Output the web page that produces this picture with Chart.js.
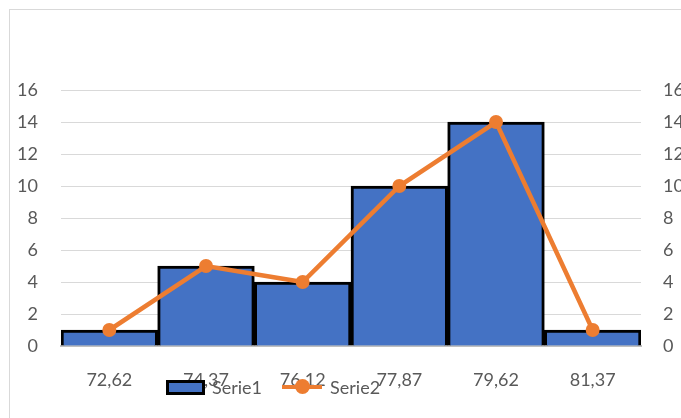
<!DOCTYPE html>
<html>
<head>
<meta charset="utf-8">
<script src="https://cdn.jsdelivr.net/npm/chart.js@4/dist/chart.umd.min.js"></script>
<style>
  html, body { margin: 0; padding: 0; background: #fff; overflow: hidden; }
  #wrap { position: relative; width: 681px; height: 418px; }
  #frame { position: absolute; left: 9px; top: 9px; width: 700px; height: 440px; border: 1px solid #d9d9d9; box-sizing: border-box; }
  canvas { position: absolute; left: 0; top: 0; }
  #legend { position: absolute; top: 376px; left: 166px; font-family: Lato, sans-serif; font-size: 18px; color: #595959; display: flex; align-items: center; }
  .item { display: flex; align-items: center; margin-right: 20px; }
  .box { width: 33px; height: 9px; background: #4472C4; border: 3px solid #000; margin-right: 7px; }
  .ln { position: relative; width: 40px; height: 4px; background: #ED7D31; margin-right: 8px; }
  .ln::after { content: ''; position: absolute; left: 13px; top: -6px; width: 15px; height: 15px; border-radius: 50%; background: #ED7D31; }
</style>
</head>
<body>
<div id="wrap">
  <div id="frame"></div>
  <canvas id="myChart" width="681" height="418"></canvas>
  <div id="legend"></div>
</div>
<script>
/* Data */
const categories = ['72,62', '74,37', '76,12', '77,87', '79,62', '81,37'];
const serie1 = [1, 5, 4, 10, 14, 1];
const serie2 = [1, 5, 4, 10, 14, 1];
const yTicks = [0, 2, 4, 6, 8, 10, 12, 14, 16];

const ctx = document.getElementById('myChart');
const tickFont = { family: 'Lato, sans-serif', size: 18 };

var myChart = new Chart(ctx, {
    data: {
        labels: categories,
        datasets: [{
            type: 'line',
            label: 'Serie2',
            data: serie2,
            yAxisID: 'y2',
            borderColor: '#ED7D31',
            backgroundColor: '#ED7D31',
            borderWidth: 4.5,
            pointRadius: 7,
            pointBorderWidth: 0,
            tension: 0,
            order: 0
        }, {
            type: 'bar',
            label: 'Serie1',
            data: serie1,
            yAxisID: 'y',
            backgroundColor: '#4472C4',
            borderColor: '#000000',
            borderWidth: 3,
            barPercentage: 1,
            categoryPercentage: 1,
            order: 1
        }]
    },
    options: {
        responsive: false,
        animation: false,
        layout: { padding: { left: 9, top: 90, right: 0, bottom: 0 } },
        plugins: { legend: { display: false }, tooltip: { enabled: false } },
        scales: {
            x: {
                grid: { display: false, drawTicks: false },
                border: { display: true, color: '#bfbfbf', width: 2 },
                ticks: { color: '#595959', font: tickFont, padding: 23, maxRotation: 0 },
                afterFit: s => { s.height = 72; }
            },
            y: {
                position: 'left',
                min: 0, max: 16,
                afterBuildTicks: s => { s.ticks = yTicks.map(v => ({ value: v })); },
                grid: { color: '#d9d9d9', drawTicks: false },
                border: { display: false },
                ticks: { color: '#595959', font: tickFont, padding: 23 },
                afterFit: s => { s.width = 52; }
            },
            y2: {
                position: 'right',
                min: 0, max: 16,
                afterBuildTicks: s => { s.ticks = yTicks.map(v => ({ value: v })); },
                grid: { display: false, drawTicks: false },
                border: { display: false },
                ticks: { color: '#595959', font: tickFont, padding: 22 },
                afterFit: s => { s.width = 40; }
            }
        }
    }
});

// Legend built from the dataset labels
const legend = document.getElementById('legend');
[1, 0].forEach(i => {
    const ds = myChart.data.datasets[i];
    const item = document.createElement('div');
    item.className = 'item';
    const mark = document.createElement('span');
    mark.className = ds.type === 'bar' ? 'box' : 'ln';
    const txt = document.createElement('span');
    txt.textContent = ds.label;
    item.appendChild(mark);
    item.appendChild(txt);
    legend.appendChild(item);
});
</script>
</body>
</html>
